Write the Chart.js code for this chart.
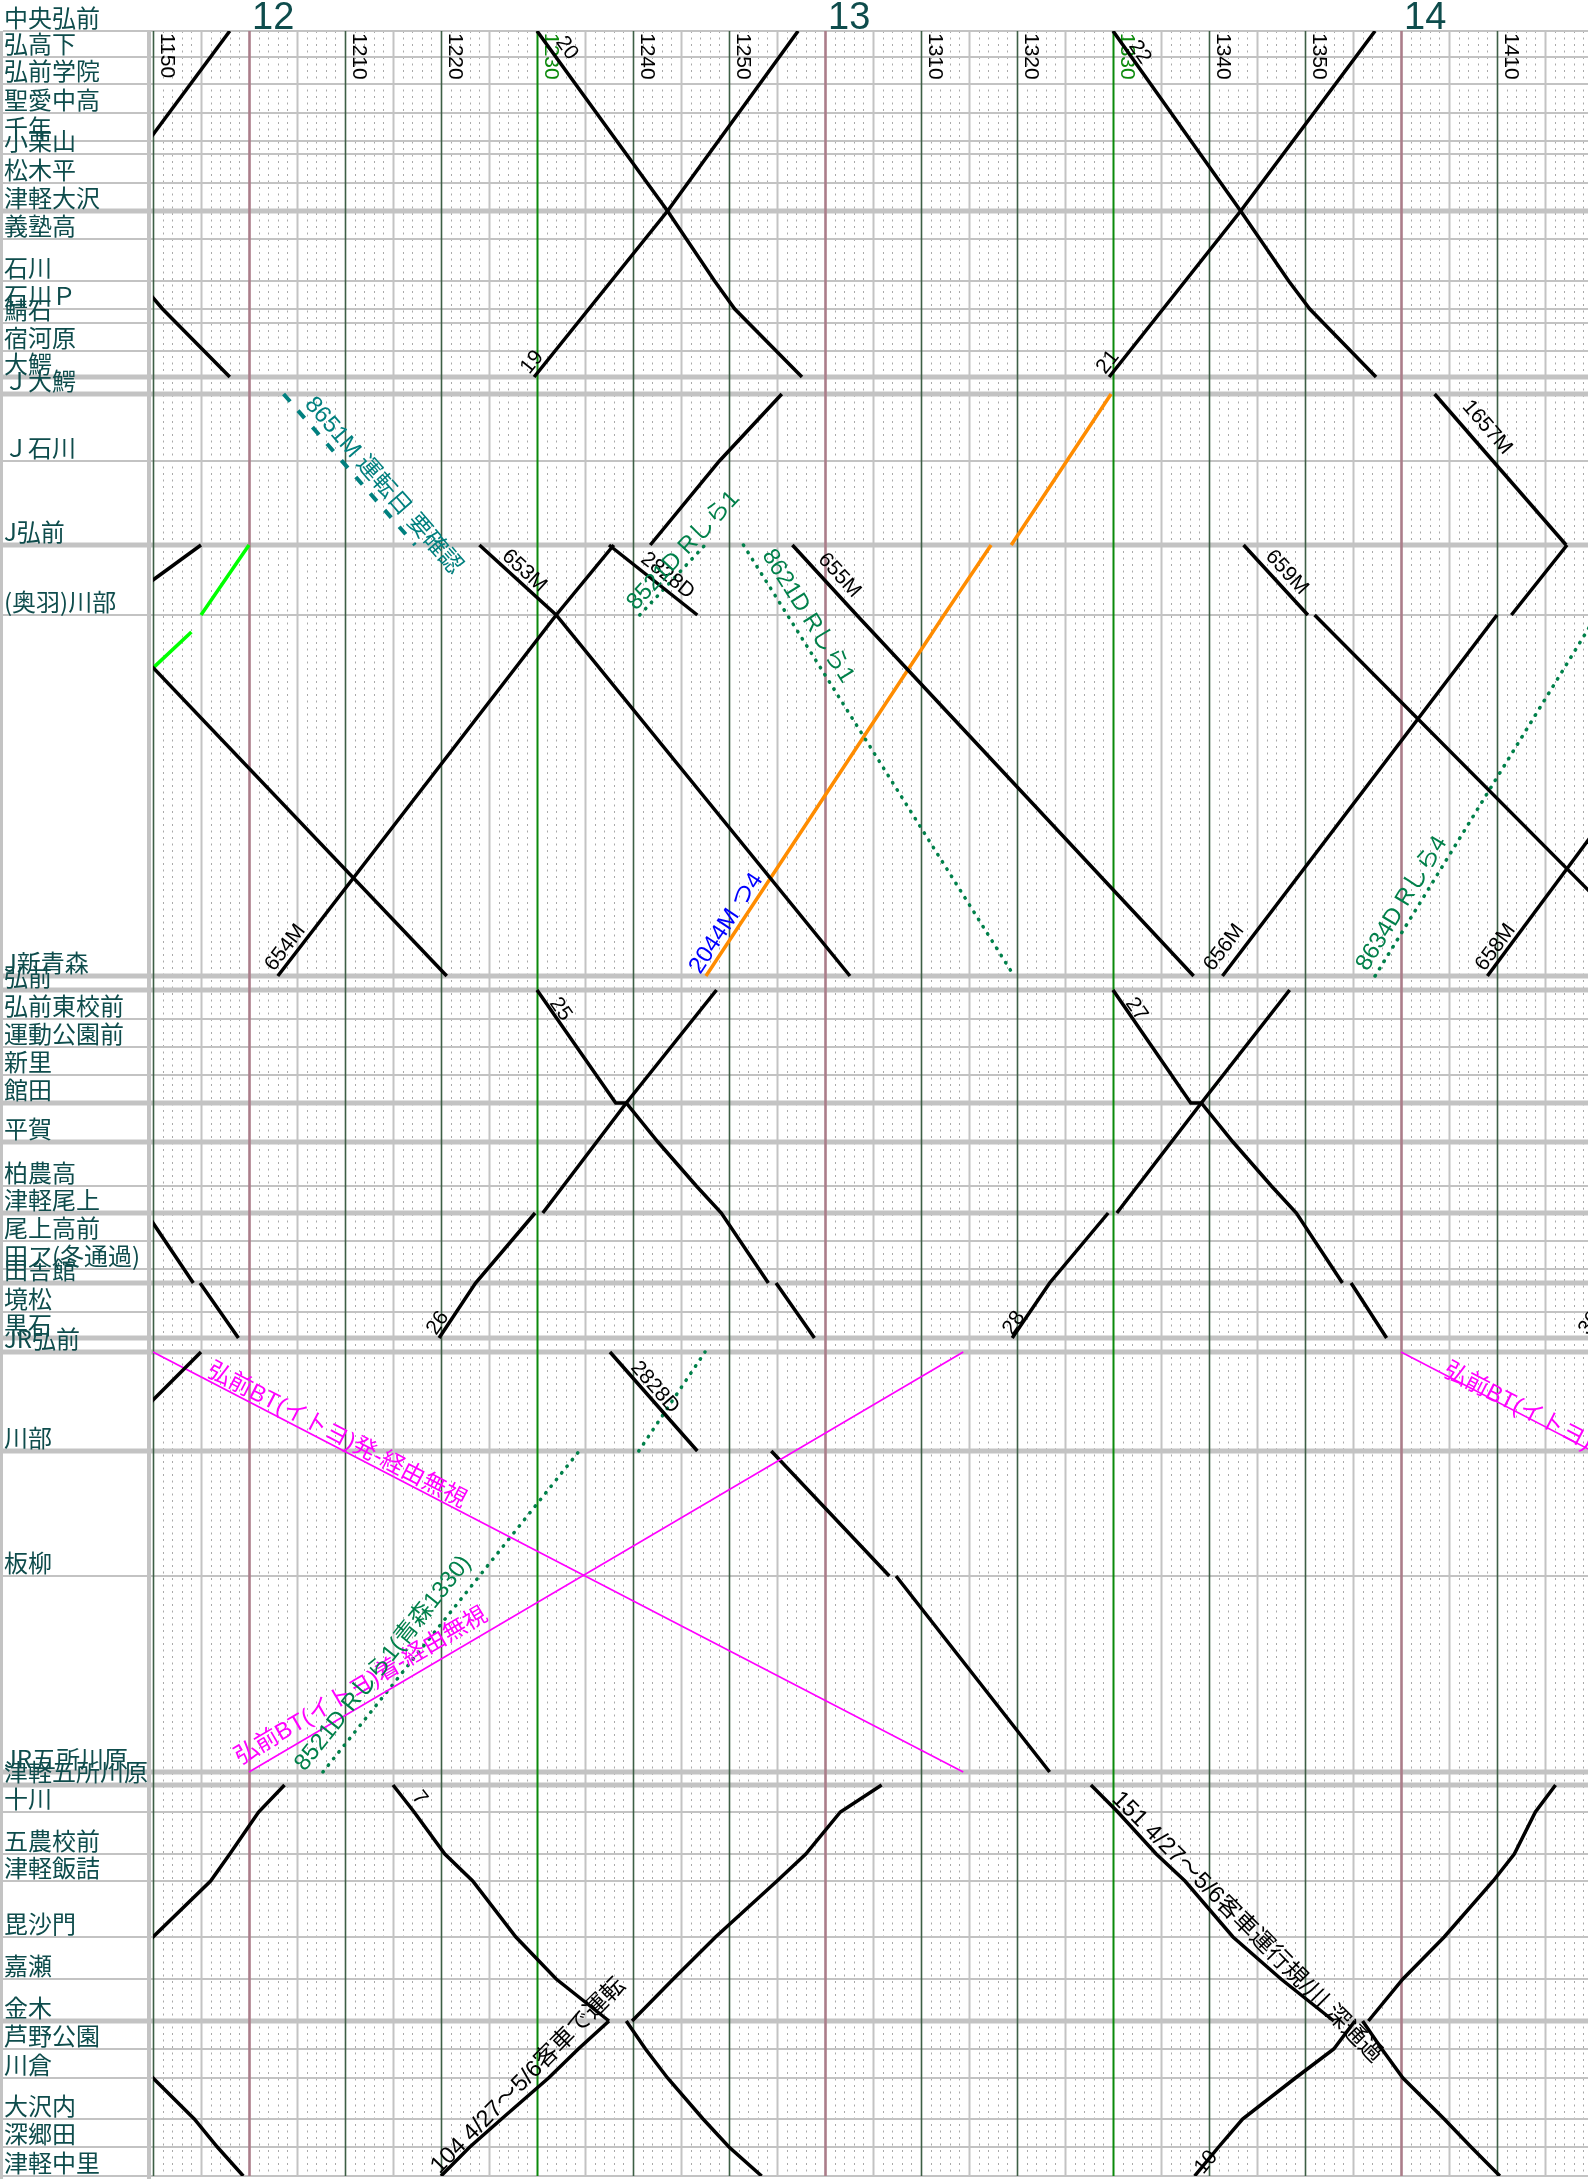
<!DOCTYPE html>
<html>
<head>
<meta charset="utf-8">
<script src="https://cdn.jsdelivr.net/npm/chart.js@4.4.1/dist/chart.umd.min.js"></script>
<style>
  body { margin: 0; background: #fff; }
  #wrap { width: 1588px; height: 2179px; position: relative; }
</style>
</head>
<body>
<div id="wrap"><canvas id="dia"></canvas></div>
<script>
// — 駅と位置 (上から下へ、ダイヤ上の距離) —
const stations = ['中央弘前','弘高下','弘前学院','聖愛中高','千年','小栗山','松木平','津軽大沢','義塾高','石川','石川Ｐ','鯖石','宿河原','大鰐','Ｊ大鰐',
  'Ｊ石川','J弘前','(奥羽)川部','J新青森',
  '弘前','弘前東校前','運動公園前','新里','館田','平賀','柏農高','津軽尾上','尾上高前','田ア(冬通過)','田舎館','境松','黒石',
  'JR弘前','川部','板柳','JR五所川原',
  '津軽五所川原','十川','五農校前','津軽飯詰','毘沙門','嘉瀬','金木','芦野公園','川倉','大沢内','深郷田','津軽中里'];
const stationPos = [0,2.6,5.3,8.2,11.0,12.3,15.2,18.0,20.8,25.0,27.8,29.2,32.0,34.6,36.3,
  43.0,51.4,58.4,94.5,
  95.9,98.8,101.6,104.4,107.2,111.1,115.5,118.2,121.0,123.8,125.2,128.1,130.7,
  132.1,142.0,154.5,174.1,
  175.4,178.1,182.3,185.0,190.6,194.8,199.0,201.8,204.7,208.8,211.6,214.5];
const thickStations = ['津軽大沢','大鰐','Ｊ大鰐','J弘前','J新青森','弘前','館田','平賀','津軽尾上','田舎館','黒石','JR弘前','川部','JR五所川原','津軽五所川原','金木'];

// — 時刻目盛 —
const timeStart = '11:50';
const hourLabels = ['12','13','14'];
const minuteLabels = ['1150','1210','1220','1230','1240','1250','1310','1320','1330','1340','1350','1410'];

// — 大鰐線 —
const kd17 = [['11:30.5','大鰐'],['11:44.1','津軽大沢'],['11:58','中央弘前']];
const kd18 = [['11:30','中央弘前'],['11:43.6','津軽大沢'],['11:48.5','石川'],['11:51','石川Ｐ'],['11:58','大鰐']];
const kd19 = [['12:29.7','大鰐'],['12:43.6','津軽大沢'],['12:57.2','中央弘前']];
const kd20 = [['12:30','中央弘前'],['12:43.6','津軽大沢'],['12:48.5','石川'],['12:50.6','石川Ｐ'],['12:57.6','大鰐']];
const kd21 = [['13:29.6','大鰐'],['13:43.3','津軽大沢'],['13:57.3','中央弘前']];
const kd22 = [['13:30','中央弘前'],['13:43.3','津軽大沢'],['13:48.3','石川'],['13:50.5','石川Ｐ'],['13:57.4','大鰐']];

// — 奥羽線 —
const ouDown0 = [['11:44.8','(奥羽)川部'],['12:20.6','J新青森']];
const ouUp0 = [['11:45','(奥羽)川部'],['11:55','J弘前']];
const ouLime = [['11:15.8','J新青森'],['11:54',60.1],null,['11:55','(奥羽)川部'],['12:00','J弘前']];
const ou8651M = [['12:03.6','Ｊ大鰐'],['12:17.3','J弘前']];
const ou653M = [['12:24','J弘前'],['12:32','(奥羽)川部'],['13:02.6','J新青森']];
const ou654M = [['12:03','J新青森'],['12:32','(奥羽)川部'],['12:38','J弘前'],null,['12:41.8','J弘前'],['12:49','Ｊ石川'],['12:55.5','Ｊ大鰐']];
const ou2828D = [['12:37.5','J弘前'],['12:46.7','(奥羽)川部']];
const ou8521D = [['12:40.7','(奥羽)川部'],['12:47.5','J弘前']];
const ou8621D = [['12:51.5','J弘前'],['13:19.7','J新青森']];
const ou655M = [['12:56.6','J弘前'],['13:03.3','(奥羽)川部'],['13:38.4','J新青森']];
const ou2044M = [['12:47.6','J新青森'],['13:12.4','(奥羽)川部'],['13:17.3','J弘前'],null,['13:19.4','J弘前'],['13:29.8','Ｊ大鰐']];
const ou656M = [['13:41.4','J新青森'],['14:10','(奥羽)川部'],null,['14:11.5','(奥羽)川部'],['14:17.3','J弘前']];
const ou659M = [['13:43.6','J弘前'],['13:50.3','(奥羽)川部'],null,['13:51','(奥羽)川部'],['14:28.4','J新青森']];
const ou658M = [['14:09','J新青森'],['14:36.9','(奥羽)川部']];
const ou1657M = [['14:03.5','Ｊ大鰐'],['14:17.2','J弘前']];
const ou8634D = [['13:57.3','J新青森'],['14:20.4','(奥羽)川部']];

// — 弘南線 —
const kn23 = [['11:30','弘前'],['11:38.2','館田'],['11:39.3','館田'],['11:42.6','平賀'],['11:46.6','柏農高'],['11:49.3','津軽尾上'],['11:54.2','田舎館'],null,['11:54.9','田舎館'],['11:58.9','黒石']];
const kn25 = [['12:30','弘前'],['12:38.2','館田'],['12:39.3','館田'],['12:42.6','平賀'],['12:46.6','柏農高'],['12:49.2','津軽尾上'],['12:54.1','田舎館'],null,['12:54.9','田舎館'],['12:58.9','黒石']];
const kn26 = [['12:19.8','黒石'],['12:23.6','田舎館'],['12:29.8','津軽尾上'],null,['12:30.6','津軽尾上'],['12:39.3','館田'],['12:48.7','弘前']];
const kn27 = [['13:30','弘前'],['13:38.1','館田'],['13:39.2','館田'],['13:42.5','平賀'],['13:46.5','柏農高'],['13:49.1','津軽尾上'],['13:53.9','田舎館'],null,['13:54.8','田舎館'],['13:58.5','黒石']];
const kn28 = [['13:19.5','黒石'],['13:23.4','田舎館'],['13:29.5','津軽尾上'],null,['13:30.4','津軽尾上'],['13:39.2','館田'],['13:48.4','弘前']];
const kn30 = [['14:19.8','黒石'],['14:23.6','田舎館'],['14:29.8','津軽尾上']];

// — 五能線・バス —
const gnUp0 = [['11:44.7','川部'],['11:55','JR弘前']];
const bus1 = [['11:50','JR弘前'],['13:14.4','JR五所川原']];
const bus2 = [['12:00','JR五所川原'],['13:14.4','JR弘前']];
const bus3 = [['14:00','JR弘前'],['15:24.4','JR五所川原']];
const gn2828D = [['12:37.6','JR弘前'],['12:46.7','川部'],null,['12:54.4','川部'],['13:06.7','板柳'],null,['13:07.4','板柳'],['13:23.4','JR五所川原']];
const gn8521D = [['12:07.7','JR五所川原'],['12:34.4','川部'],null,['12:40.6','川部'],['12:47.5','JR弘前']];

// — 津軽鉄道 —
const ttUp0 = [['11:46.5','嘉瀬'],['11:50','毘沙門'],['11:56','津軽飯詰'],['11:58','五農校前'],['12:01','十川'],['12:03.7','津軽五所川原']];
const ttDown0 = [['11:44','金木'],['11:47','芦野公園'],['11:50','川倉'],['11:54.3','大沢内'],['11:56.7','深郷田'],['11:59.4','津軽中里']];
const tt7 = [['12:15','津軽五所川原'],['12:17.2','十川'],['12:20.4','五農校前'],['12:23.3','津軽飯詰'],['12:27.8','毘沙門'],['12:32','嘉瀬'],['12:37.5','金木'],null,
  ['12:39.3','金木'],['12:41.3','芦野公園'],['12:43.6','川倉'],['12:47.3','大沢内'],['12:50','深郷田'],['12:53.4','津軽中里']];
const tt104 = [['12:20','津軽中里'],['12:23','深郷田'],['12:26.3','大沢内'],['12:31.2','川倉'],['12:34.3','芦野公園'],['12:37.5','金木'],null,
  ['12:39.9','金木'],['12:44.2','嘉瀬'],['12:48.6','毘沙門'],['12:55','津軽飯詰'],['12:58','五農校前'],['13:01.6','十川'],['13:05.9','津軽五所川原']];
const tt151 = [['13:27.7','津軽五所川原'],['13:30.5','十川'],['13:34.5','五農校前'],['13:37.5','津軽飯詰'],['13:42.5','毘沙門'],['13:47.5','嘉瀬'],['13:53','金木'],null,
  ['13:56','金木'],['13:58','芦野公園'],['14:00.2','川倉'],['14:04.5','大沢内'],['14:07.3','深郷田'],['14:10.3','津軽中里']];
const tt10 = [['13:38.5','津軽中里'],['13:41','深郷田'],['13:43.5','大沢内'],['13:49','川倉'],['13:53','芦野公園'],['13:55.2','金木'],null,
  ['13:56.6','金木'],['14:00.2','嘉瀬'],['14:04.5','毘沙門'],['14:09.6','津軽飯詰'],['14:11.8','五農校前'],['14:14','十川'],['14:16.1','津軽五所川原']];

// 列車と線種
const trainList = [
  [kd17,'black'],[kd18,'black'],[kd19,'black'],[kd20,'black'],[kd21,'black'],[kd22,'black'],
  [ouDown0,'black'],[ouUp0,'black'],[ouLime,'lime'],[ou8651M,'teal'],[ou653M,'black'],[ou654M,'black'],
  [ou2828D,'black'],[ou8521D,'dot'],[ou8621D,'dot'],[ou655M,'black'],[ou2044M,'orange'],
  [ou656M,'black'],[ou659M,'black'],[ou658M,'black'],[ou1657M,'black'],[ou8634D,'dot'],
  [kn23,'black'],[kn25,'black'],[kn26,'black'],[kn27,'black'],[kn28,'black'],[kn30,'black'],
  [gnUp0,'black'],[bus1,'magenta'],[bus2,'magenta'],[bus3,'magenta'],[gn2828D,'black'],[gn8521D,'dot'],
  [ttUp0,'black'],[ttDown0,'black'],[tt7,'black'],[tt104,'black'],[tt151,'black'],[tt10,'black']
];

// 列車番号などの注記: [文字, 列車, 時刻, 位置(駅名か距離), 色の種類, ずらし]
const trainLabels = [
  ['19', kd19, '12:29.2', 34.4, 'black'],
  ['20', kd20, '12:31.9', 1.1, 'black'],
  ['21', kd21, '13:29.2', 34.4, 'black'],
  ['22', kd22, '13:31.6', 1.5, 'black'],
  ['8651M 運転日 要確認', ou8651M, '12:05.1', 37.9, 'teal', 8],
  ['653M', ou653M, '12:26.1', 52.8, 'black', 2],
  ['654M', ou654M, '12:02.6', 94.1, 'black'],
  ['2828D', ou2828D, '12:40.7', 53.0, 'black'],
  ['8521D Rしら1', ou8521D, '12:40.3', 58.0, 'dot'],
  ['8621D Rしら1', ou8621D, '12:53.4', 52.4, 'dot'],
  ['655M', ou655M, '12:59.2', 52.9, 'black'],
  ['659M', ou659M, '13:45.8', 52.6, 'black'],
  ['1657M', ou1657M, '14:06.3', 37.6, 'black'],
  ['2044M つ4', ou2044M, '12:47', 94.4, 'blue'],
  ['656M', ou656M, '13:40.4', 94.1, 'black'],
  ['8634D Rしら4', ou8634D, '13:56.5', 94.1, 'dot'],
  ['658M', ou658M, '14:08.7', 94.1, 'black'],
  ['25', kn25, '12:31.25', 97.2, 'black'],
  ['27', kn27, '13:31.25', 97.2, 'black'],
  ['26', kn26, '12:19.5', 130.5, 'black'],
  ['28', kn28, '13:19.5', 130.5, 'black'],
  ['30', kn30, '14:19.5', 130.5, 'black'],
  ['弘前BT(イトヨ)発-経由無視', bus1, '11:55.5', 134.4, 'magenta'],
  ['弘前BT(イトヨ)着-経由無視', bus2, '11:59.1', 173.4, 'magenta'],
  ['弘前BT(イトヨ)発-経由無視', bus3, '14:04.3', 134.4, 'magenta'],
  ['2828D', gn2828D, '12:39.7', 133.7, 'black'],
  ['8521D Rしら1(青森1330)', gn8521D, '12:05.8', 174.1, 'dot'],
  ['7', tt7, '12:16.9', 176.6, 'black'],
  ['104 4/27～5/6客車で運転', tt104, '12:20', 214.5, 'black', 2],
  ['151 4/27～5/6客車運行規/川 深通過', tt151, '13:29.8', 176.9, 'black'],
  ['10', tt10, '13:39.4', 214.4, 'black']
];

// — 見た目 —
const lineStyle = {
  black:   { color: '#000000', width: 3.5 },
  lime:    { color: '#00ff00', width: 3.5 },
  orange:  { color: '#ff8c00', width: 3.5 },
  teal:    { color: '#00807f', width: 4, dash: [10, 12] },
  dot:     { color: '#00804a', width: 3.5, dash: [0.5, 8], cap: 'round' },
  magenta: { color: '#ff00ff', width: 1.6 }
};
const labelColor = { black: '#000', teal: '#00807f', dot: '#00804a', blue: '#0000ff', magenta: '#ff00ff' };
const inkTeal = '#0e4c4c';
const jpFont = '"Noto Sans CJK JP", sans-serif';
const numFont = '"Liberation Sans", Arial, "Noto Sans CJK JP", sans-serif';

function tm(s) { const p = s.split(':'); return +p[0] * 60 + parseFloat(p[1]); }
function sp(v) { return typeof v === 'number' ? v : stationPos[stations.indexOf(v)]; }
function toPoints(arr) {
  let last = 0;
  return arr.map(p => {
    if (!p) return { x: last, y: null };
    last = tm(p[0]);
    return { x: last, y: sp(p[1]) };
  });
}

const xMin = tm(timeStart);
const xMax = xMin + 1435 / 9.6;

const datasets = trainList.map(([arr, kind]) => {
  const st = lineStyle[kind];
  return {
    data: toPoints(arr),
    showLine: true,
    spanGaps: false,
    borderColor: st.color,
    borderWidth: st.width,
    borderDash: st.dash || [],
    borderCapStyle: st.cap || 'butt',
    pointRadius: 0,
    pointHoverRadius: 0
  };
});

// 線の傾き (画面上の角度)
function slopeAngle(chart, arr, t) {
  const pts = toPoints(arr);
  let best = null;
  for (let i = 0; i < pts.length - 1; i++) {
    const a = pts[i], b = pts[i + 1];
    if (a.y == null || b.y == null || a.y === b.y) continue;
    const lo = Math.min(a.x, b.x), hi = Math.max(a.x, b.x);
    const d = t < lo ? lo - t : (t > hi ? t - hi : 0);
    if (!best || d < best.d) best = { d, a, b };
  }
  const xs = chart.scales.x, ys = chart.scales.y;
  const dx = xs.getPixelForValue(best.b.x) - xs.getPixelForValue(best.a.x);
  const dy = ys.getPixelForValue(best.b.y) - ys.getPixelForValue(best.a.y);
  let ang = Math.atan2(dy, dx);
  if (dx < 0) ang += Math.PI;
  return ang;
}

const gridPlugin = {
  id: 'diagramGrid',
  beforeDatasetsDraw(chart) {
    const { ctx, chartArea: a, scales: { x, y } } = chart;
    ctx.save();
    const vline = (m, color, w, dash) => {
      const px = Math.round(x.getPixelForValue(m)) + 0.5;
      ctx.beginPath();
      ctx.setLineDash(dash || []);
      ctx.strokeStyle = color; ctx.lineWidth = w;
      ctx.moveTo(px, a.top); ctx.lineTo(px, a.bottom); ctx.stroke();
    };
    const m0 = Math.ceil(x.min), m1 = Math.floor(x.max);
    // 1分 点線
    for (let m = m0; m <= m1; m++) if (m % 5) vline(m, '#a9a9a9', 1, [2, 4.5]);
    ctx.setLineDash([]);
    // 駅の横線
    stations.forEach((s, i) => {
      const py = y.getPixelForValue(stationPos[i]);
      ctx.beginPath();
      ctx.strokeStyle = '#c3c3c3';
      ctx.lineWidth = thickStations.includes(s) ? 5 : 2;
      ctx.moveTo(3, py); ctx.lineTo(a.right, py); ctx.stroke();
    });
    // 上端
    ctx.beginPath(); ctx.strokeStyle = '#c3c3c3'; ctx.lineWidth = 2;
    ctx.moveTo(3, a.top); ctx.lineTo(a.right, a.top); ctx.stroke();
    for (let m = m0; m <= m1; m++) if (m % 5 === 0 && m % 10) vline(m, '#c3c3c3', 2);
    for (let m = m0; m <= m1; m++) if (m % 10 === 0 && m % 30) vline(m, '#3d5f45', 1.6);
    for (let m = m0; m <= m1; m++) if (m % 30 === 0 && m % 60) vline(m, '#0a8a0a', 2);
    for (let m = m0; m <= m1; m++) if (m % 60 === 0) vline(m, '#ab7d8a', 2.6);
    // 駅名欄の枠
    ctx.fillStyle = '#c3c3c3';
    ctx.fillRect(0, a.top, 3, a.bottom - a.top + 3);
    ctx.fillRect(147, a.top, 4, a.bottom - a.top + 3);

    // 駅名
    ctx.fillStyle = inkTeal;
    ctx.font = '24px ' + jpFont;
    ctx.textBaseline = 'alphabetic';
    ctx.textAlign = 'left';
    stations.forEach((s, i) => {
      const py = y.getPixelForValue(stationPos[i]);
      ctx.fillText(s, 4, py - 4);
    });

    // 時 (大きな数字)
    ctx.font = '38px ' + numFont;
    hourLabels.forEach(h => {
      const px = x.getPixelForValue(+h * 60);
      ctx.fillText(h, px + 3, 29);
    });

    // 10分ごとの時刻 (縦書き)
    ctx.font = '21px ' + numFont;
    minuteLabels.forEach(lbl => {
      const m = +lbl.slice(0, 2) * 60 + +lbl.slice(2);
      const px = x.getPixelForValue(m);
      ctx.save();
      ctx.fillStyle = (m % 30 === 0) ? '#0a8a0a' : '#000';
      ctx.translate(px + 8, a.top + 2);
      ctx.rotate(Math.PI / 2);
      ctx.fillText(lbl, 0, 0);
      ctx.restore();
    });
    ctx.restore();
  },
  afterDatasetsDraw(chart) {
    const { ctx, scales: { x, y } } = chart;
    ctx.save();
    ctx.textBaseline = 'alphabetic';
    ctx.textAlign = 'left';
    trainLabels.forEach(([text, arr, t, p, kind, shift]) => {
      const px = x.getPixelForValue(tm(t));
      const py = y.getPixelForValue(sp(p));
      const ang = slopeAngle(chart, arr, tm(t));
      const hasJp = /[^\x00-\x7F]/.test(text);
      ctx.save();
      ctx.translate(px, py);
      ctx.rotate(ang);
      ctx.fillStyle = labelColor[kind];
      ctx.font = (hasJp ? '23.5px ' : '21px ') + numFont;
      ctx.fillText(text, 0, -(shift || 0));
      ctx.restore();
    });
    ctx.restore();
  }
};

new Chart(document.getElementById('dia'), {
  type: 'scatter',
  data: { datasets },
  options: {
    responsive: true,
    maintainAspectRatio: false,
    animation: false,
    events: [],
    layout: { padding: { left: 153, top: 31, right: 0, bottom: 3 } },
    plugins: { legend: { display: false }, tooltip: { enabled: false } },
    scales: {
      x: { type: 'linear', min: xMin, max: xMax, display: false },
      y: { type: 'linear', min: 0, max: 214.5, reverse: true, display: false }
    }
  },
  plugins: [gridPlugin]
});
</script>
</body>
</html>
